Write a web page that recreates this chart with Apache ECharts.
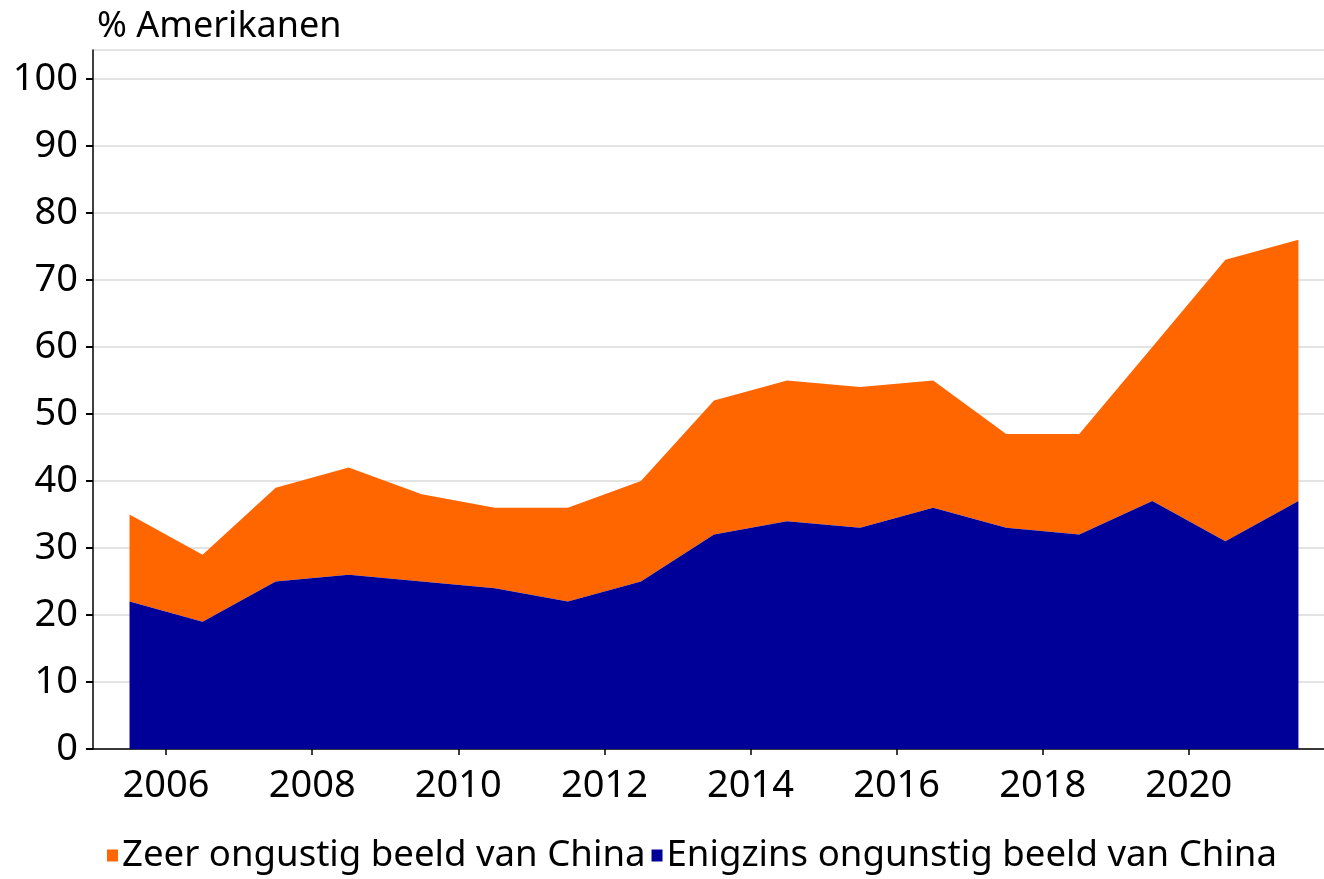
<!DOCTYPE html>
<html>
<head>
<meta charset="utf-8">
<script src="https://cdn.jsdelivr.net/npm/echarts@6/dist/echarts.min.js"></script>
<style>
  html, body { margin: 0; padding: 0; background: #fff; }
  #chart { width: 1324px; height: 879px; }
</style>
</head>
<body>
<div id="chart"></div>
<script>
    // survey points sit mid-year
    let years = [2005.5, 2006.5, 2007.5, 2008.5, 2009.5, 2010.5, 2011.5, 2012.5, 2013.5,
                 2014.5, 2015.5, 2016.5, 2017.5, 2018.5, 2019.5, 2020.5, 2021.5];
    let enigzins = [22, 19, 25, 26, 25, 24, 22, 25, 32, 34, 33, 36, 33, 32, 37, 31, 37];
    let zeer = [13, 10, 14, 16, 13, 12, 14, 15, 20, 21, 21, 19, 14, 15, 23, 42, 39];
    let yearTicks = [2006, 2008, 2010, 2012, 2014, 2016, 2018, 2020];

    let fontFam = '"Noto Sans", "Open Sans", sans-serif';

    // value first so the stack runs on y, year second
    function pairs(vals) {
        return years.map(function (y, i) { return [vals[i], y]; });
    }

    let chart = echarts.init(document.getElementById('chart'));
    let option = {
        animation: false,
        textStyle: { fontFamily: fontFam },
        title: {
            text: '% Amerikanen',
            left: 92,
            top: 4,
            textStyle: { fontSize: 36, fontWeight: 'normal', color: '#000', fontFamily: fontFam }
        },
        legend: {
            data: ['Zeer ongustig beeld van China', 'Enigzins ongunstig beeld van China'],
            left: 102,
            bottom: 0,
            icon: 'rect',
            itemWidth: 11,
            itemHeight: 12,
            itemGap: 6,
            textStyle: { fontSize: 36.6, color: '#000', fontFamily: fontFam, padding: [0, 0, 0, -1] }
        },
        grid: { left: 93, right: 0, top: 50, bottom: 130, containLabel: false },
        xAxis: {
            type: 'value',
            min: 2005,
            max: 2021.85,
            splitLine: { show: false },
            axisLine: { lineStyle: { color: '#000', width: 1.5 } },
            axisTick: { show: true, length: 6, lineStyle: { color: '#000', width: 1.5 }, customValues: yearTicks },
            axisLabel: {
                customValues: yearTicks,
                fontSize: 38,
                color: '#000',
                margin: 18,
                formatter: function (v) { return String(v); }
            }
        },
        yAxis: {
            type: 'value',
            min: 0,
            max: 104.3,
            interval: 10,
            axisLine: { show: true, lineStyle: { color: '#000', width: 1.5 } },
            axisTick: { show: true, length: 7, lineStyle: { color: '#000', width: 2 } },
            splitLine: { lineStyle: { color: '#e3e3e3', width: 2 } },
            axisLabel: {
                fontSize: 38,
                color: '#000',
                margin: 15,
                showMaxLabel: false
            }
        },
        series: [
            {
                name: 'Enigzins ongunstig beeld van China',
                type: 'line',
                stack: 'total',
                encode: { x: 1, y: 0 },
                data: pairs(enigzins),
                showSymbol: false,
                lineStyle: { width: 0 },
                itemStyle: { color: '#000099' },
                areaStyle: { color: '#000099', opacity: 1 },
                z: 3
            },
            {
                name: 'Zeer ongustig beeld van China',
                type: 'line',
                stack: 'total',
                encode: { x: 1, y: 0 },
                data: pairs(zeer),
                showSymbol: false,
                lineStyle: { width: 0 },
                itemStyle: { color: '#ff6600' },
                areaStyle: { color: '#ff6600', opacity: 1 },
                z: 2
            }
        ]
    };
    chart.setOption(option, true);
</script>
</body>
</html>
